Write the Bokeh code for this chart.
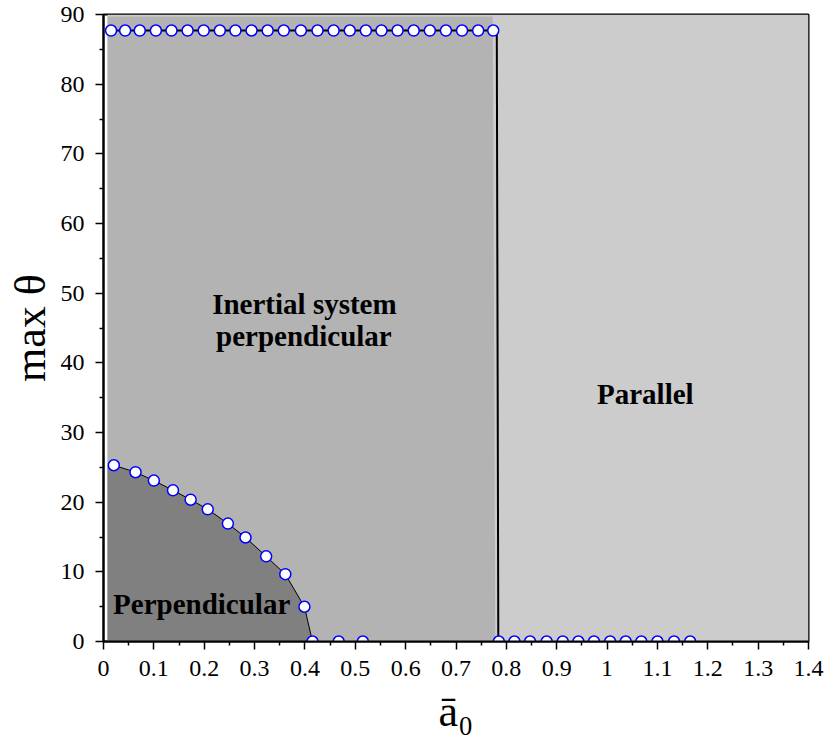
from bokeh.plotting import figure
from bokeh.models import FixedTicker, Range1d
from bokeh.core.properties import value
from bokeh.embed import file_html
from bokeh.resources import INLINE

# ---- data ----
# upper boundary (inertial system perpendicular), theta ~ 87.7
top_a0 = [0.015, 0.043, 0.072, 0.104, 0.135, 0.167, 0.199, 0.231, 0.262, 0.294,
          0.326, 0.358, 0.392, 0.425, 0.457, 0.489, 0.521, 0.552, 0.584, 0.616,
          0.648, 0.680, 0.712, 0.744, 0.774]
top_theta = [87.7, 87.7, 87.7, 87.7, 87.7, 87.7, 87.7, 87.7, 87.7, 87.7,
             87.7, 87.7, 87.7, 87.7, 87.7, 87.7, 87.7, 87.7, 87.7, 87.7,
             87.7, 87.7, 87.7, 87.7, 87.7]

# perpendicular boundary curve
perp_a0 = [0.0205, 0.0636, 0.100, 0.138, 0.173, 0.207, 0.247, 0.282, 0.323, 0.361, 0.399, 0.415]
perp_theta = [25.3, 24.3, 23.1, 21.7, 20.35, 18.97, 16.93, 14.93, 12.22, 9.66, 4.99, 0.0]

# points at theta = 0
zero_a0 = [0.467, 0.515, 0.785, 0.816, 0.847, 0.880, 0.912, 0.943, 0.974, 1.006,
           1.037, 1.068, 1.100, 1.133, 1.165]
zero_theta = [0, 0, 0, 0, 0, 0, 0, 0, 0, 0, 0, 0, 0, 0, 0]

# inertial / parallel boundary line
bound_a0 = [0.774, 0.781, 0.784]
bound_theta = [87.7, 87.7, 0.0]

# shaded regions
region_left = 0.008
inertial_top = 89.7
inertial_right = [0.773, 0.778]   # at top, at bottom

x_ticks = [0, 0.1, 0.2, 0.3, 0.4, 0.5, 0.6, 0.7, 0.8, 0.9, 1.0, 1.1, 1.2, 1.3, 1.4]
x_tick_labels = ["0", "0.1", "0.2", "0.3", "0.4", "0.5", "0.6", "0.7", "0.8", "0.9",
                 "1", "1.1", "1.2", "1.3", "1.4"]
x_minor = [0.05, 0.15, 0.25, 0.35, 0.45, 0.55, 0.65, 0.75, 0.85, 0.95, 1.05, 1.15, 1.25, 1.35]
y_ticks = [0, 10, 20, 30, 40, 50, 60, 70, 80, 90]
y_minor = [5, 15, 25, 35, 45, 55, 65, 75, 85]

region_text = ["Inertial system", "perpendicular", "Perpendicular", "Parallel"]
region_text_a0 = [0.399, 0.398, 0.195, 1.076]
region_text_theta = [48.5, 43.8, 5.4, 35.5]

# ---- figure ----
p = figure(width=827, height=742, output_backend="svg", toolbar_location=None,
           x_range=Range1d(0, 1.4), y_range=Range1d(0, 90),
           min_border_left=103, min_border_right=19, min_border_top=14, min_border_bottom=101)
p.grid.visible = False
p.background_fill_color = "white"
p.border_fill_color = "white"
p.outline_line_color = "black"
p.outline_line_width = 2

# parallel background
p.quad(left=[region_left], right=[1.4], bottom=[0], top=[90],
       fill_color="#cccccc", line_color=None)
# inertial system perpendicular region
p.patch(x=[region_left, region_left, inertial_right[0], inertial_right[1]],
        y=[0, inertial_top, inertial_top, 0],
        fill_color="#b3b3b3", line_color=None)
# perpendicular region
p.patch(x=[region_left, region_left] + perp_a0,
        y=[0, perp_theta[0]] + perp_theta,
        fill_color="#808080", line_color=None)

# boundary lines
p.line(top_a0, top_theta, line_color="black", line_width=2)
p.line(bound_a0, bound_theta, line_color="black", line_width=2)
p.line(perp_a0, perp_theta, line_color="black", line_width=1)

# markers
for xs, ys in ((top_a0, top_theta), (perp_a0, perp_theta), (zero_a0, zero_theta)):
    p.scatter(xs, ys, size=11, fill_color="white", line_color="#0000ff", line_width=1.5)

p.text(x=region_text_a0, y=region_text_theta, text=region_text,
       text_font=value("Liberation Serif"), text_font_style="bold",
       text_font_size="29px", text_align="center", text_baseline="alphabetic",
       text_color="black")

# axes
p.xaxis.ticker = FixedTicker(ticks=x_ticks, minor_ticks=x_minor)
p.xaxis.major_label_overrides = dict(zip(x_ticks, x_tick_labels))
p.yaxis.ticker = FixedTicker(ticks=y_ticks, minor_ticks=y_minor)

for ax in (p.xaxis[0], p.yaxis[0]):
    ax.axis_line_color = "black"
    ax.axis_line_width = 2
    ax.major_tick_line_color = "black"
    ax.major_tick_line_width = 1.5
    ax.minor_tick_line_color = "black"
    ax.minor_tick_line_width = 1.5
    ax.major_tick_in = 0
    ax.major_tick_out = 8
    ax.minor_tick_in = 0
    ax.minor_tick_out = 4
    ax.major_label_text_font = "Liberation Serif"
    ax.major_label_text_font_size = "24px"
    ax.major_label_text_color = "black"
    ax.major_label_standoff = 11
    ax.axis_label_text_font = "Liberation Serif"
    ax.axis_label_text_font_style = "normal"
    ax.axis_label_text_font_size = "44px"
    ax.axis_label_text_color = "black"

p.xaxis.axis_label = "a\u0304\u2080"
p.yaxis.axis_label = "max \u03b8"
p.xaxis.axis_label_standoff = 8
p.yaxis.axis_label_standoff = 3

open("out.html", "w").write(file_html(p, INLINE))
